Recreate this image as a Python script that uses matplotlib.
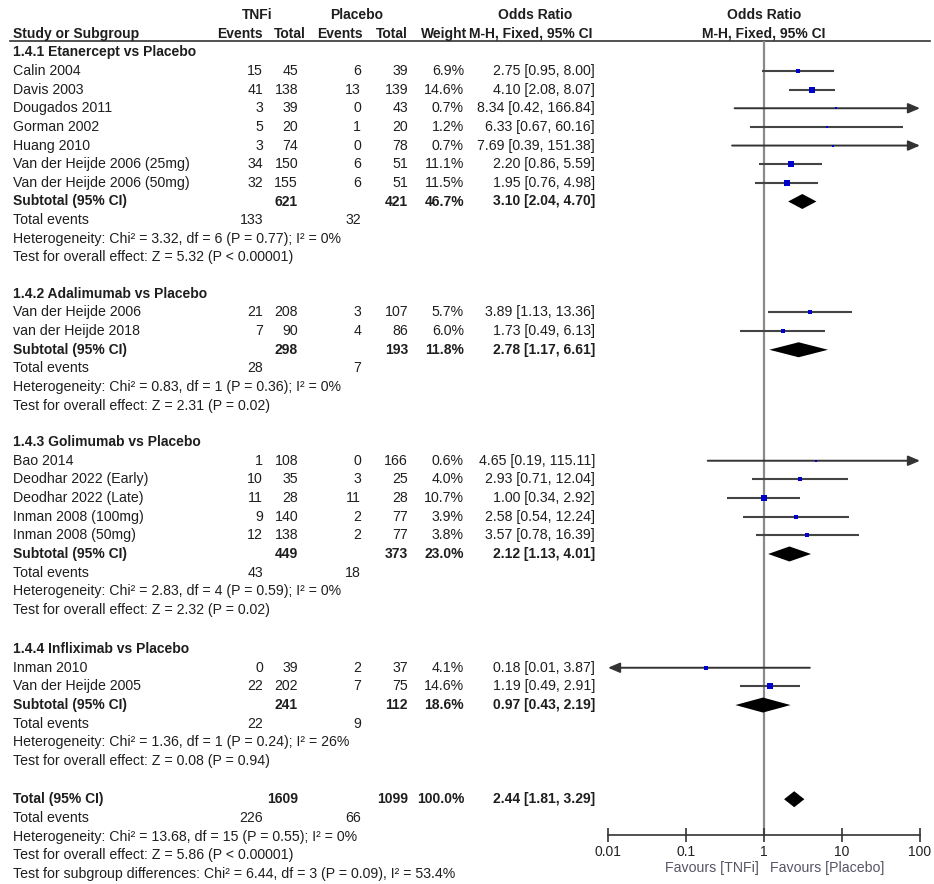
import matplotlib
matplotlib.use("Agg")
import matplotlib.pyplot as plt
import numpy as np

plt.rcParams['font.family'] = ['Liberation Sans', 'DejaVu Sans']

# ---------------- data ----------------
group_titles = ["1.4.1 Etanercept vs Placebo", "1.4.2 Adalimumab vs Placebo",
                "1.4.3 Golimumab vs Placebo", "1.4.4 Infliximab vs Placebo"]

g1_names = ["Calin 2004", "Davis 2003", "Dougados 2011", "Gorman 2002", "Huang 2010",
            "Van der Heijde 2006 (25mg)", "Van der Heijde 2006 (50mg)"]
g1_e1 = [15, 41, 3, 5, 3, 34, 32]
g1_n1 = [45, 138, 39, 20, 74, 150, 155]
g1_e2 = [6, 13, 0, 1, 0, 6, 6]
g1_n2 = [39, 139, 43, 20, 78, 51, 51]
g1_w = [6.9, 14.6, 0.7, 1.2, 0.7, 11.1, 11.5]
g1_or = [2.75, 4.10, 8.34, 6.33, 7.69, 2.20, 1.95]
g1_lo = [0.95, 2.08, 0.42, 0.67, 0.39, 0.86, 0.76]
g1_hi = [8.00, 8.07, 166.84, 60.16, 151.38, 5.59, 4.98]

g2_names = ["Van der Heijde 2006", "van der Heijde 2018"]
g2_e1 = [21, 7]
g2_n1 = [208, 90]
g2_e2 = [3, 4]
g2_n2 = [107, 86]
g2_w = [5.7, 6.0]
g2_or = [3.89, 1.73]
g2_lo = [1.13, 0.49]
g2_hi = [13.36, 6.13]

g3_names = ["Bao 2014", "Deodhar 2022 (Early)", "Deodhar 2022 (Late)",
            "Inman 2008 (100mg)", "Inman 2008 (50mg)"]
g3_e1 = [1, 10, 11, 9, 12]
g3_n1 = [108, 35, 28, 140, 138]
g3_e2 = [0, 3, 11, 2, 2]
g3_n2 = [166, 25, 28, 77, 77]
g3_w = [0.6, 4.0, 10.7, 3.9, 3.8]
g3_or = [4.65, 2.93, 1.00, 2.58, 3.57]
g3_lo = [0.19, 0.71, 0.34, 0.54, 0.78]
g3_hi = [115.11, 12.04, 2.92, 12.24, 16.39]

g4_names = ["Inman 2010", "Van der Heijde 2005"]
g4_e1 = [0, 22]
g4_n1 = [39, 202]
g4_e2 = [2, 7]
g4_n2 = [37, 75]
g4_w = [4.1, 14.6]
g4_or = [0.18, 1.19]
g4_lo = [0.01, 0.49]
g4_hi = [3.87, 2.91]

sub_n1 = [621, 298, 449, 241]
sub_n2 = [421, 193, 373, 112]
sub_w = [46.7, 11.8, 23.0, 18.6]
sub_or = [3.10, 2.78, 2.12, 0.97]
sub_lo = [2.04, 1.17, 1.13, 0.43]
sub_hi = [4.70, 6.61, 4.01, 2.19]
sub_ev1 = [133, 28, 43, 22]
sub_ev2 = [32, 7, 18, 9]
sub_het = ["Heterogeneity: Chi² = 3.32, df = 6 (P = 0.77); I² = 0%",
           "Heterogeneity: Chi² = 0.83, df = 1 (P = 0.36); I² = 0%",
           "Heterogeneity: Chi² = 2.83, df = 4 (P = 0.59); I² = 0%",
           "Heterogeneity: Chi² = 1.36, df = 1 (P = 0.24); I² = 26%"]
sub_test = ["Test for overall effect: Z = 5.32 (P < 0.00001)",
            "Test for overall effect: Z = 2.31 (P = 0.02)",
            "Test for overall effect: Z = 2.32 (P = 0.02)",
            "Test for overall effect: Z = 0.08 (P = 0.94)"]

tot_n1, tot_n2, tot_w = 1609, 1099, 100.0
tot_or, tot_lo, tot_hi = 2.44, 1.81, 3.29
tot_ev1, tot_ev2 = 226, 66
tot_het = "Heterogeneity: Chi² = 13.68, df = 15 (P = 0.55); I² = 0%"
tot_test = "Test for overall effect: Z = 5.86 (P < 0.00001)"
tot_sub = "Test for subgroup differences: Chi² = 6.44, df = 3 (P = 0.09), I² = 53.4%"

ticks = [0.01, 0.1, 1, 10, 100]
tick_labels = ["0.01", "0.1", "1", "10", "100"]
fav_left = "Favours [TNFi]"
fav_right = "Favours [Placebo]"

groups = [
    (g1_names, g1_e1, g1_n1, g1_e2, g1_n2, g1_w, g1_or, g1_lo, g1_hi),
    (g2_names, g2_e1, g2_n1, g2_e2, g2_n2, g2_w, g2_or, g2_lo, g2_hi),
    (g3_names, g3_e1, g3_n1, g3_e2, g3_n2, g3_w, g3_or, g3_lo, g3_hi),
    (g4_names, g4_e1, g4_n1, g4_e2, g4_n2, g4_w, g4_or, g4_lo, g4_hi),
]

# ---------------- layout ----------------
W, H = 934, 884
fig = plt.figure(figsize=(W / 100, H / 100), dpi=100)
tx = fig.add_axes([0, 0, 1, 1])
tx.set_xlim(0, W)
tx.set_ylim(H, 0)
tx.axis('off')

AX_TOP, AX_BOT = 41, 835
X0, X1 = 608, 920
fa = fig.add_axes([X0 / W, (H - AX_BOT) / H, (X1 - X0) / W, (AX_BOT - AX_TOP) / H])
fa.set_xscale('log')
fa.set_xlim(0.01, 100)
fa.set_ylim(AX_BOT, AX_TOP)
fa.patch.set_alpha(0)
for s in ['left', 'right', 'top']:
    fa.spines[s].set_visible(False)
fa.spines['bottom'].set_color('#333333')
fa.spines['bottom'].set_linewidth(1.2)
fa.set_yticks([])
fa.set_xticks(ticks)
fa.set_xticklabels(tick_labels)
fa.minorticks_off()
fa.tick_params(axis='x', direction='inout', length=10, width=1.2, color='#333333',
               labelsize=10, labelcolor='#222222', pad=2)

TC = '#1e1e1e'
FS = 10.2
C_E1, C_N1, C_E2, C_N2, C_W, C_OR = 263, 298, 361, 408, 464, 595
XL = 13

def t(x, y, s, ha='left', bold=False, color=TC, fs=None):
    if fs is None:
        fs = 10.0 if bold else FS
    tx.text(x, y, s, ha=ha, va='center', fontsize=fs, color=color,
            fontweight='bold' if bold else 'normal')

# header
t(257, 15, "TNFi", ha='center', bold=True)
t(357, 15, "Placebo", ha='center', bold=True)
t(535, 15, "Odds Ratio", ha='center', bold=True)
t(764, 15, "Odds Ratio", ha='center', bold=True)
t(XL, 34, "Study or Subgroup", bold=True)
t(C_E1, 34, "Events", ha='right', bold=True)
t(306, 34, "Total", ha='right', bold=True)
t(363, 34, "Events", ha='right', bold=True)
t(C_N2, 34, "Total", ha='right', bold=True)
t(467, 34, "Weight", ha='right', bold=True)
t(592, 34, "M-H, Fixed, 95% CI", ha='right', bold=True)
t(764, 34, "M-H, Fixed, 95% CI", ha='center', bold=True)
tx.plot([10, 930], [41, 41], color='#333333', lw=1.2)

fa.axvline(1, color='#8a8a8a', lw=1.6, zorder=1)

SP = 18.65
GAPS = [1.95, 1.95, 2.1, 2.05]
y = 15 + 2 * SP

def ci_line(y, lo, hi):
    lo_c = max(lo, 0.01)
    hi_c = min(hi, 100)
    style = '-|>,head_length=0.7,head_width=0.3'
    if hi > 100:
        fa.annotate('', xy=(100, y), xytext=(lo_c, y),
                    arrowprops=dict(arrowstyle=style, color='#333333', lw=1.4,
                                    shrinkA=0, shrinkB=0),
                    annotation_clip=False)
    elif lo <= 0.01:
        fa.annotate('', xy=(0.01, y), xytext=(hi_c, y),
                    arrowprops=dict(arrowstyle=style, color='#333333', lw=1.4,
                                    shrinkA=0, shrinkB=0),
                    annotation_clip=False)
    else:
        fa.plot([lo_c, hi_c], [y, y], color='#444444', lw=1.5, zorder=2,
                solid_capstyle='butt')

def diamond(y, est, lo, hi, h=7.5):
    fa.fill([lo, est, hi, est], [y, y - h, y, y + h], color='black', zorder=3, lw=0)

for gi, g in enumerate(groups):
    names, e1, n1, e2, n2, w, orr, lo, hi = g
    t(XL, y, group_titles[gi], bold=True)
    y += SP
    for i in range(len(names)):
        t(XL, y, names[i])
        t(C_E1, y, str(e1[i]), ha='right')
        t(C_N1, y, str(n1[i]), ha='right')
        t(C_E2, y, str(e2[i]), ha='right')
        t(C_N2, y, str(n2[i]), ha='right')
        t(C_W, y, f"{w[i]:.1f}%", ha='right')
        t(C_OR, y, f"{orr[i]:.2f} [{lo[i]:.2f}, {hi[i]:.2f}]", ha='right')
        ci_line(y, lo[i], hi[i])
        side = max(2.2, 1.65 * np.sqrt(w[i]))
        fa.plot([orr[i]], [y], marker='s', ms=side * 0.72, color='#0000cc',
                mec='#0000cc', mew=0, zorder=4)
        y += SP
    t(XL, y, "Subtotal (95% CI)", bold=True)
    t(C_N1, y, str(sub_n1[gi]), ha='right', bold=True)
    t(C_N2, y, str(sub_n2[gi]), ha='right', bold=True)
    t(C_W, y, f"{sub_w[gi]:.1f}%", ha='right', bold=True)
    t(C_OR, y, f"{sub_or[gi]:.2f} [{sub_lo[gi]:.2f}, {sub_hi[gi]:.2f}]", ha='right', bold=True)
    diamond(y, sub_or[gi], sub_lo[gi], sub_hi[gi])
    y += SP
    t(XL, y, "Total events")
    t(C_E1, y, str(sub_ev1[gi]), ha='right')
    t(C_E2, y, str(sub_ev2[gi]), ha='right')
    y += SP
    t(XL, y, sub_het[gi])
    y += SP
    t(XL, y, sub_test[gi])
    y += SP * GAPS[gi]

t(XL, y, "Total (95% CI)", bold=True)
t(C_N1, y, str(tot_n1), ha='right', bold=True)
t(C_N2, y, str(tot_n2), ha='right', bold=True)
t(C_W, y, f"{tot_w:.1f}%", ha='right', bold=True)
t(C_OR, y, f"{tot_or:.2f} [{tot_lo:.2f}, {tot_hi:.2f}]", ha='right', bold=True)
diamond(y, tot_or, tot_lo, tot_hi, h=8)
y += SP
t(XL, y, "Total events")
t(C_E1, y, str(tot_ev1), ha='right')
t(C_E2, y, str(tot_ev2), ha='right')
y += SP
t(XL, y, tot_het)
y += SP
t(XL, y, tot_test)
y += SP
t(XL, y, tot_sub)

t(759, 868, fav_left, ha='right', color='#555566')
t(770, 868, fav_right, ha='left', color='#555566')

fig.savefig("out.png", dpi=100)
